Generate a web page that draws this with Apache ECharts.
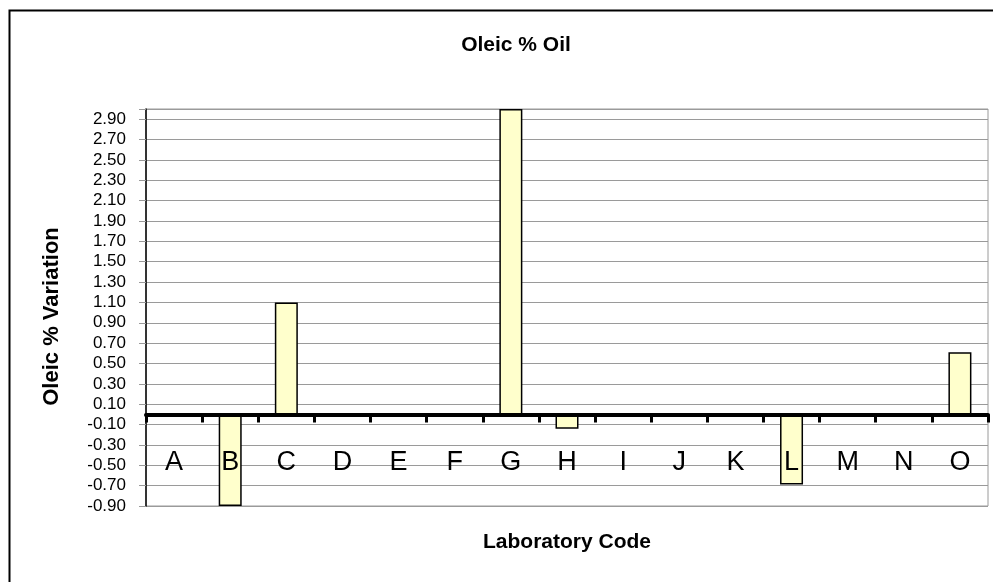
<!DOCTYPE html>
<html>
<head>
<meta charset="utf-8">
<script src="https://cdn.jsdelivr.net/npm/echarts@6/dist/echarts.min.js"></script>
<style>
html,body{margin:0;padding:0;background:#fff;}
#chart{width:993px;height:582px;}
</style>
</head>
<body>
<div id="chart"></div>
<script>
const categories = ['A','B','C','D','E','F','G','H','I','J','K','L','M','N','O'];
const variation = [0, -0.90, 1.10, 0, 0, 0, 3.00, -0.14, 0, 0, 0, -0.69, 0, 0, 0.61];
const yMin = -0.90;
const yMax = 3.00;
const yStep = 0.20;

const FONT = '"Liberation Sans", Arial, sans-serif';
const chart = echarts.init(document.getElementById('chart'));
chart.setOption({
  animation: false,
  backgroundColor: '#fff',
  title: {
    text: 'Oleic % Oil',
    left: 511, top: 30, textAlign: 'center',
    textStyle: {fontFamily: FONT, fontSize: 21, fontWeight: 'bold', color: '#000'}
  },
  graphic: [{
    type: 'rect', left: 7, top: 8, silent: true,
    shape: {width: 1000, height: 600},
    style: {fill: 'none', stroke: '#000', lineWidth: 2}
  }],
  grid: {
    left: 146, top: 109, right: 5, bottom: 76,
    containLabel: false,
    outerBoundsMode: 'none',
    show: true, borderColor: '#9a9a9a', borderWidth: 1, backgroundColor: 'transparent'
  },
  xAxis: {
    type: 'category',
    data: categories,
    z: 10,
    name: 'Laboratory Code',
    nameLocation: 'middle',
    nameGap: 26,
    nameTextStyle: {fontFamily: FONT, fontSize: 21, fontWeight: 'bold', color: '#000'},
    axisLine: {onZero: true, lineStyle: {color: '#000', width: 4}},
    axisTick: {show: true, alignWithLabel: false, length: 8, lineStyle: {color: '#000', width: 3}},
    axisLabel: {margin: -57, fontFamily: FONT, fontSize: 27, color: '#000', lineHeight: 27, interval: 0},
    splitLine: {show: false}
  },
  yAxis: {
    type: 'value',
    min: yMin, max: yMax, interval: yStep,
    name: 'Oleic % Variation',
    nameLocation: 'middle',
    nameGap: 83,
    nameRotate: 90,
    nameTextStyle: {fontFamily: FONT, fontSize: 22, fontWeight: 'bold', color: '#000', padding: [0, 18, 0, 0]},
    axisLine: {show: true, onZero: false, lineStyle: {color: '#000', width: 1.5}},
    axisTick: {show: true, length: 7, lineStyle: {color: '#9a9a9a', width: 1}},
    axisLabel: {
      margin: 20, fontFamily: FONT, fontSize: 17, color: '#000',
      formatter: v => (v > yMax - 0.05 ? '' : v.toFixed(2))
    },
    splitLine: {show: true, lineStyle: {color: '#9a9a9a', width: 1}}
  },
  series: [{
    type: 'bar',
    data: variation,
    barWidth: 23,
    itemStyle: {color: '#FFFFCC', borderColor: '#000', borderWidth: 1.5}
  }]
});
</script>
</body>
</html>
